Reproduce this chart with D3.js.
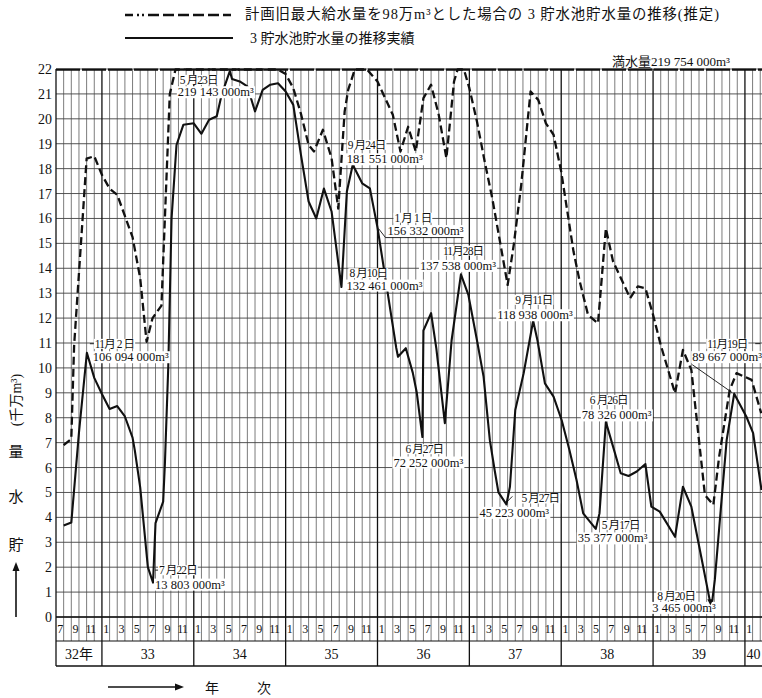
<!DOCTYPE html>
<html lang="ja">
<head>
<meta charset="utf-8">
<title>3貯水池貯水量の推移</title>
<script src="https://cdn.jsdelivr.net/npm/d3@7/dist/d3.min.js"></script>
<style>
  html, body { margin: 0; padding: 0; background: #fff; }
  svg { display: block; }
  text { fill: #111; font-family: "Liberation Serif", "Noto Sans CJK JP", serif; }
</style>
</head>
<body>
<svg id="chart" width="762" height="698"></svg>
<script>
// ---- 3貯水池貯水量の推移実績 (千万m³) ----
const actualDates = [
  "1957-08-01","1957-09-01","1957-10-01","1957-12-01","1958-01-01","1958-02-01",
  "1958-03-01","1958-04-01","1958-05-01","1958-05-10","1958-06-01","1958-07-01",
  "1958-08-01","1958-09-01","1958-09-08","1958-09-21","1958-10-04","1958-10-24",
  "1958-11-20","1959-01-01","1959-02-01","1959-03-01","1959-04-01","1959-04-20",
  "1959-06-01","1959-07-01","1959-08-01","1959-09-01","1959-10-01","1959-11-01",
  "1959-12-01","1960-01-01","1960-02-01","1960-03-01","1960-04-01","1960-05-01",
  "1960-06-01","1960-07-01","1960-09-01","1960-11-01","1960-12-01","1961-03-15",
  "1961-03-22","1961-04-22","1961-05-20","1961-06-05","1961-07-01","1961-08-01",
  "1961-08-22","1961-09-25","1961-10-22","1961-12-28","1962-02-01","1962-02-25",
  "1962-03-22","1962-04-10","1962-04-25","1962-06-10","1962-07-01","1962-08-04",
  "1962-09-28","1962-10-28","1962-12-01","1963-01-03","1963-02-03","1963-03-01",
  "1963-03-28","1963-06-01","1963-07-25","1963-08-25","1963-09-25","1963-10-28",
  "1963-12-01","1963-12-25","1964-01-28","1964-03-28","1964-04-28","1964-06-01",
  "1964-07-10","1964-09-03","1964-09-25","1964-10-20","1965-01-07","1965-02-03",
  "1965-03-06"
];
const actualValues = [
  3.67, 3.79, 7.4, 9.6, 8.95, 8.35,
  8.47, 8.05, 7.2, 6.7, 5.2, 2.0,
  3.77, 4.63, 6.2, 10.05, 16.0, 18.95,
  19.76, 19.82, 19.4, 19.96, 20.1, 20.96,
  21.6, 21.5, 21.3, 20.3, 21.16, 21.37,
  21.43, 21.1, 20.56, 18.55, 16.68, 16.0,
  17.2, 16.28, 17.08, 17.41, 17.21, 10.8,
  10.45, 10.79, 9.8, 9.0, 11.5, 12.2,
  10.8, 7.78, 11.1, 12.93, 11.1, 9.65,
  7.1, 5.9, 5.0, 5.23, 8.31, 9.79,
  11.1, 9.38, 8.85, 7.9, 6.7, 5.5,
  4.16, 4.16, 6.84, 5.77, 5.66, 5.84,
  6.14, 4.43, 4.23, 3.22, 5.23, 4.43,
  2.42, 1.49, 4.16, 7.1, 8.04, 7.38,
  5.1
];

// ---- 計画旧最大給水量を98万m³とした場合の推移(推定) (千万m³) ----
const planDates = [
  "1957-08-01","1957-09-01","1957-09-12","1957-11-01","1957-12-01","1958-01-01",
  "1958-02-01","1958-03-01","1958-04-01","1958-05-01","1958-06-01","1958-06-26",
  "1958-07-20","1958-08-25","1958-09-27","1958-10-20","1959-12-01","1960-01-01",
  "1960-02-01","1960-03-01","1960-04-01","1960-04-22","1960-05-28","1960-07-01",
  "1960-07-28","1960-08-23","1960-09-06","1960-10-02","1960-11-20","1961-01-01",
  "1961-02-01","1961-03-01","1961-04-01","1961-05-01","1961-06-01","1961-07-01",
  "1961-08-01","1961-09-01","1961-10-01","1961-11-01","1961-11-15","1961-12-10",
  "1962-01-01","1962-02-01","1962-03-01","1962-04-01","1962-05-01","1962-06-01",
  "1962-06-25","1962-07-25","1962-09-01","1962-10-01","1962-11-01","1962-12-01",
  "1963-01-01","1963-02-18","1963-03-14","1963-04-16","1963-05-26","1963-06-26",
  "1963-07-25","1963-09-01","1963-10-01","1963-11-01","1963-12-01","1964-01-01",
  "1964-02-01","1964-03-28","1964-04-28","1964-06-01","1964-07-25","1964-08-28",
  "1964-09-20","1964-11-01","1964-11-28","1965-01-28","1965-03-05"
];
const planValues = [
  6.9, 7.15, 10.9, 18.4, 18.5, 17.75,
  17.2, 16.95, 16.1, 15.25, 13.6, 11.05,
  12.0, 12.5, 21.0, 21.98, 21.98, 21.8,
  21.23, 20.2, 18.95, 18.69, 19.56, 18.42,
  16.4, 20.3, 21.16, 21.98, 21.98, 21.5,
  20.83, 20.16, 18.69, 19.68, 18.69, 20.83,
  21.37, 20.16, 18.42, 21.5, 21.98, 21.98,
  21.23, 19.88, 18.29, 16.8, 15.07, 13.33,
  14.94, 17.35, 21.1, 20.76, 19.82, 19.36,
  17.88, 14.67, 13.47, 12.13, 11.79, 15.6,
  14.27, 13.47, 12.8, 13.27, 13.2, 12.13,
  10.92, 8.98, 10.72, 9.92, 4.9, 4.5,
  6.44, 9.1, 9.79, 9.52, 8.18
];

// ---- 実績の注記点 (m³) ----
const noteDates = [
  "1957-11-02","1958-07-22","1959-05-23","1960-08-10","1960-09-24","1961-01-01",
  "1961-06-27","1961-11-28","1962-05-27","1962-09-11","1963-05-17","1963-06-26",
  "1964-08-20","1964-11-19"
];
const noteVolumes = [
  106094000, 13803000, 219143000, 132461000, 181551000, 156332000,
  72252000, 137538000, 45223000, 118938000, 35377000, 78326000,
  3465000, 89667000
];

const fullVolume = 219754000;            // 満水量
const yTickValues = d3.range(0, 23);     // 0 … 22 (千万m³)
const yearNames = ["32年", "33", "34", "35", "36", "37", "38", "39", "40"];
const yearStartDates = ["1957-07-01", "1958-01-01", "1959-01-01", "1960-01-01", "1961-01-01",
                        "1962-01-01", "1963-01-01", "1964-01-01", "1965-01-01"];
const legendTexts = [
  "計画旧最大給水量を98万m³とした場合の 3 貯水池貯水量の推移(推定)",
  "3 貯水池貯水量の推移実績"
];

// ---- レイアウト ----
const plotLeft = 56, plotRight = 762, plotTop = 69, plotBottom = 617;
const monthRowBottom = 641, yearRowBottom = 666;
const monthSpan = 92.23;   // 昭和32年7月から右端までの月数

// 注記ラベルの位置 (点からのずれ: 日付行 dx,dy / 数量行 dx,dy)
const noteLayout = [
  [8, -9, 6, 4],
  [6, -12.5, 2, 1.5],
  [-50, 8.6, -52, 20.6],
  [8, -14, 5, -2],
  [-5, -20, -6, -6],
  [17, -10, 10, 3],
  [-17, 12, -29, 25],
  [-18, -24, -41, -9],
  [15, -6, -27, 8],
  [-18, -21, -36, -6],
  [6, -4, -18, 9],
  [-16, -22, -24, -7],
  [-54, -13, -59, -1],
  [-27, -50, -42, -37]
];

// 日付 → 昭和32年7月1日からの月数 (月の幅は一定)
function monthIndex(s) {
  const [yy, mm, dd] = s.split("-").map(Number);
  const days = new Date(yy, mm, 0).getDate();
  return (yy - 1957) * 12 + (mm - 7) + (dd - 1) / days;
}

const x = d3.scaleLinear().domain([0, monthSpan]).range([plotLeft, plotRight]);
const y = d3.scaleLinear().domain([0, 22]).range([plotBottom, plotTop]);

const svg = d3.select("#chart");
svg.append("rect").attr("width", 762).attr("height", 698).attr("fill", "#fff");

svg.append("defs").append("clipPath").attr("id", "plotClip")
  .append("rect").attr("x", plotLeft).attr("y", plotTop - 6)
  .attr("width", plotRight - plotLeft).attr("height", plotBottom - plotTop + 8);

// ---- 方眼 ----
const grid = svg.append("g");
grid.selectAll("line.h").data(yTickValues).join("line")
  .attr("class", "h")
  .attr("x1", plotLeft).attr("x2", plotRight)
  .attr("y1", d => y(d)).attr("y2", d => y(d))
  .attr("stroke", "#2a2a2a").attr("stroke-width", 0.8);

const monthLines = d3.range(1, Math.floor(monthSpan) + 1);
grid.selectAll("line.v").data(monthLines).join("line")
  .attr("class", "v")
  .attr("x1", d => x(d)).attr("x2", d => x(d))
  .attr("y1", plotTop)
  .attr("y2", d => (d % 12 === 6 ? yearRowBottom : monthRowBottom))
  .attr("stroke", d => (d % 12 === 6 ? "#111" : "#444"))
  .attr("stroke-width", d => (d % 12 === 6 ? 1.3 : 0.7));

// 枠
const frame = svg.append("g").attr("stroke", "#111").attr("fill", "none");
frame.append("line").attr("x1", plotLeft).attr("x2", plotLeft)
  .attr("y1", plotTop).attr("y2", yearRowBottom).attr("stroke-width", 1.3);
frame.append("line").attr("x1", plotLeft).attr("x2", plotRight)
  .attr("y1", plotBottom).attr("y2", plotBottom).attr("stroke-width", 1.4);
frame.append("line").attr("x1", plotLeft).attr("x2", plotRight)
  .attr("y1", monthRowBottom).attr("y2", monthRowBottom).attr("stroke-width", 1.1);
frame.append("line").attr("x1", plotLeft).attr("x2", plotRight)
  .attr("y1", yearRowBottom).attr("y2", yearRowBottom).attr("stroke-width", 1.5);

// ---- 縦軸目盛 ----
svg.append("g").selectAll("text").data(yTickValues).join("text")
  .attr("x", plotLeft - 4).attr("y", d => y(d)).attr("dy", "0.36em")
  .attr("text-anchor", "end").attr("font-size", 14)
  .text(d => d);

// ---- 月・年 ----
const monthCells = d3.range(0, Math.floor(monthSpan) + 1)
  .map(i => ({ i, month: ((6 + i) % 12) + 1 }))
  .filter(d => d.month % 2 === 1 && x(d.i + 0.5) < plotRight);
svg.append("g").selectAll("text").data(monthCells).join("text")
  .attr("x", d => x(d.i + 0.5)).attr("y", (plotBottom + monthRowBottom) / 2)
  .attr("dy", "0.36em").attr("text-anchor", "middle")
  .attr("font-size", 12).attr("letter-spacing", -0.8)
  .text(d => d.month);

const yearCells = yearStartDates.map((d, i) => {
  const a = monthIndex(d);
  const b = i + 1 < yearStartDates.length ? monthIndex(yearStartDates[i + 1]) : monthSpan;
  return { name: yearNames[i], mid: (a + b) / 2 };
});
svg.append("g").selectAll("text").data(yearCells).join("text")
  .attr("x", d => x(d.mid)).attr("y", (monthRowBottom + yearRowBottom) / 2)
  .attr("dy", "0.36em").attr("text-anchor", "middle").attr("font-size", 14)
  .text(d => d.name);

// ---- 系列 ----
const actual = actualDates.map((d, i) => ({ m: monthIndex(d), v: actualValues[i] }))
  .concat(noteDates.map((d, i) => ({ m: monthIndex(d), v: noteVolumes[i] / 1e7 })))
  .sort((a, b) => a.m - b.m);
const plan = planDates.map((d, i) => ({ m: monthIndex(d), v: planValues[i] }));

const line = d3.line().x(d => x(d.m)).y(d => y(d.v));
const series = svg.append("g").attr("clip-path", "url(#plotClip)");
series.append("path").datum(plan).attr("d", line)
  .attr("fill", "none").attr("stroke", "#111").attr("stroke-width", 2.3)
  .attr("stroke-dasharray", "8,4").attr("stroke-linejoin", "round");
series.append("path").datum(actual).attr("d", line)
  .attr("fill", "none").attr("stroke", "#111").attr("stroke-width", 2.1)
  .attr("stroke-linejoin", "round");

// 満水量の線
svg.append("line")
  .attr("x1", plotLeft).attr("x2", plotRight)
  .attr("y1", y(fullVolume / 1e7)).attr("y2", y(fullVolume / 1e7))
  .attr("stroke", "#111").attr("stroke-width", 2.4).attr("stroke-dasharray", "24,2");

const volFmt = v => d3.format(",")(v).replace(/,/g, " ") + "m³";
svg.append("text").attr("x", 612).attr("y", 61).attr("dy", "0.36em")
  .attr("font-size", 13).text("満水量" + volFmt(fullVolume));

// ---- 注記 ----
function dateLabel(s) {
  const [, mm, dd] = s.split("-").map(Number);
  return (mm < 10 ? mm + " 月" : mm + "月") + (dd < 10 ? " " + dd + " 日" : dd + "日");
}
const notes = svg.append("g");
noteDates.forEach((d, i) => {
  const px = x(monthIndex(d)), py = y(noteVolumes[i] / 1e7);
  const [dx1, dy1, dx2, dy2] = noteLayout[i];
  const g = notes.append("g");
  const t1 = g.append("text").attr("x", px + dx1).attr("y", py + dy1).attr("dy", "0.36em")
    .attr("font-size", 11.5).attr("letter-spacing", -0.9).text(dateLabel(d));
  const t2 = g.append("text").attr("x", px + dx2).attr("y", py + dy2).attr("dy", "0.36em")
    .attr("font-size", 12.5).text(volFmt(noteVolumes[i]));
  [t1, t2].forEach(t => {
    const b = t.node().getBBox();
    g.insert("rect", "text").attr("x", b.x - 1).attr("y", b.y + 1)
      .attr("width", b.width + 2).attr("height", b.height - 2).attr("fill", "#fff");
  });
});

// 引出し線
const leaderAt = (i, pts) => {
  const px = x(monthIndex(noteDates[i])), py = y(noteVolumes[i] / 1e7);
  notes.append("path")
    .attr("d", d3.line()(pts.map(p => [px + p[0], py + p[1]])))
    .attr("fill", "none").attr("stroke", "#111").attr("stroke-width", 0.9);
};
leaderAt(0, [[3, -9], [7, -9]]);
leaderAt(1, [[2, -12.5], [5, -12.5]]);
leaderAt(5, [[1, 1], [8, 10], [86, 10]]);
leaderAt(8, [[1, -3], [6, -8]]);
leaderAt(13, [[-42, -29], [-2, -1]]);
leaderAt(13, [[21, -50], [26, -50]]);
{
  const px = x(monthIndex(noteDates[12])), py = y(noteVolumes[12] / 1e7);
  notes.append("path")
    .attr("d", `M${px - 4},${py - 9} L${px + 2},${py - 9} L${px - 1},${py - 3} Z`)
    .attr("fill", "#111");
}

// ---- 凡例 ----
const legend = svg.append("g");
legend.append("line").attr("x1", 125).attr("x2", 233).attr("y1", 15).attr("y2", 15)
  .attr("stroke", "#111").attr("stroke-width", 2.3)
  .attr("stroke-dasharray", "8,4,2,3,2,4,11,4,11,4,11,4,11,4,11,4");
legend.append("line").attr("x1", 125).attr("x2", 233).attr("y1", 38).attr("y2", 38)
  .attr("stroke", "#111").attr("stroke-width", 2.1);
legend.append("text").attr("x", 245).attr("y", 14).attr("dy", "0.36em")
  .attr("font-size", 14.4).attr("letter-spacing", 0.9).text(legendTexts[0]);
legend.append("text").attr("x", 250).attr("y", 38).attr("dy", "0.36em")
  .attr("font-size", 14).text(legendTexts[1]);

// ---- 軸の見出し ----
const arrowHead = (x0, y0, dir) => {
  const p = dir === "up"
    ? `M${x0},${y0} L${x0 - 3.5},${y0 + 9} L${x0 + 3.5},${y0 + 9} Z`
    : `M${x0},${y0} L${x0 - 9},${y0 - 3.5} L${x0 - 9},${y0 + 3.5} Z`;
  svg.append("path").attr("d", p).attr("fill", "#111");
};
svg.append("line").attr("x1", 16).attr("x2", 16).attr("y1", 617).attr("y2", 570)
  .attr("stroke", "#111").attr("stroke-width", 1.6);
arrowHead(16, 562, "up");
[["貯", 545], ["水", 497], ["量", 452]].forEach(([c, cy]) => {
  svg.append("text").attr("x", 16).attr("y", cy).attr("dy", "0.36em")
    .attr("text-anchor", "middle").attr("font-size", 15).text(c);
});
svg.append("text").attr("transform", "translate(16,400) rotate(-90)")
  .attr("dy", "0.36em").attr("text-anchor", "middle").attr("font-size", 14)
  .text("(千万m³)");

svg.append("line").attr("x1", 108).attr("x2", 176).attr("y1", 687).attr("y2", 687)
  .attr("stroke", "#111").attr("stroke-width", 1.6);
arrowHead(184, 687, "right");
svg.append("text").attr("x", 212).attr("y", 688).attr("dy", "0.36em")
  .attr("text-anchor", "middle").attr("font-size", 14).text("年");
svg.append("text").attr("x", 264).attr("y", 688).attr("dy", "0.36em")
  .attr("text-anchor", "middle").attr("font-size", 14).text("次");
</script>
</body>
</html>
